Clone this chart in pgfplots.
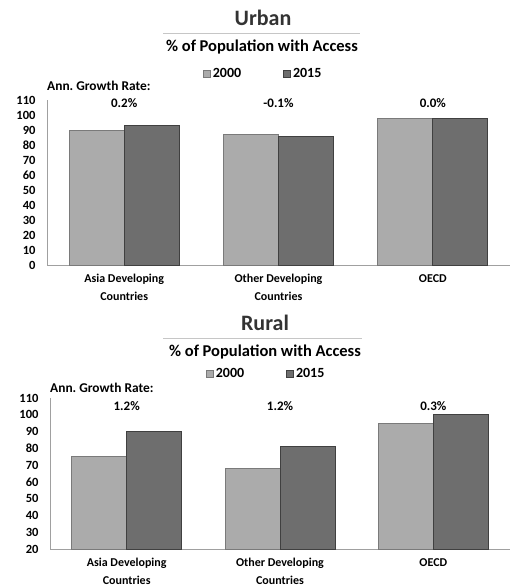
\documentclass[border=0pt]{standalone}
\usepackage{fontspec}
\setmainfont{Carlito}
\usepackage{pgfplots}
\pgfplotsset{compat=1.18}
\frenchspacing
\definecolor{lightbar}{HTML}{ABABAB}
\definecolor{lightedge}{HTML}{7A7A7A}
\definecolor{darkbar}{HTML}{6E6E6E}
\definecolor{darkedge}{HTML}{404040}
\definecolor{axgray}{HTML}{A0A0A0}
\pgfplotsset{
  mybars/.style={
    scale only axis,
    width=463pt,
    ybar=0pt,
    bar width=55pt,
    xmin=-0.5, xmax=2.5,
    xtick={0,1,2},
    xticklabels={Asia Developing\\Countries, Other Developing\\Countries, OECD},
    xticklabel style={align=center, font=\bfseries\fontsize{12}{17.5}\selectfont, yshift=-6pt},
    major tick length=0pt,
    axis x line*=bottom,
    axis y line*=left,
    axis line style={axgray, line width=0.8pt},
    yticklabel style={font=\bfseries\fontsize{12.5}{12.5}\selectfont, xshift=-8pt},
    /pgf/number format/assume math mode=true,
    legend columns=2,
    legend style={draw=none, fill=none, font=\bfseries\fontsize{14}{14}\selectfont,
      /tikz/every even column/.append style={column sep=40pt}},
    legend image code/.code={\fill[#1] (0pt,-3.5pt) rectangle (7pt,3.5pt);},
    clip=false,
  }
}
\begin{document}
\begin{tikzpicture}[x=1pt,y=1pt]
% ---------- Urban ----------
\node[font=\bfseries\fontsize{22}{22}\selectfont, text=black!80] at (263,-18) {Urban};
\draw[axgray!60, line width=0.6pt] (163,-33) -- (360,-33);
\node[font=\bfseries\fontsize{16.5}{16.5}\selectfont] at (262,-47) {\% of Population with Access};
\begin{axis}[mybars, at={(47pt,-265pt)}, anchor=south west,
  height=165pt, ymin=0, ymax=110, ytick={0,10,...,110},
  legend style={at={(0.467,1.158)}, anchor=center}]
\addplot[fill=lightbar, draw=lightedge, line width=0.8pt] coordinates {(0,90) (1,87) (2,97.5)};
\addplot[fill=darkbar, draw=darkedge, line width=0.8pt] coordinates {(0,93) (1,85.5) (2,97.5)};
\legend{2000,2015}
\node[font=\bfseries\fontsize{13.4}{13.4}\selectfont, anchor=west, inner sep=0pt] at (rel axis cs:0,1) [yshift=14pt] {Ann. Growth Rate:};
\node[font=\bfseries\fontsize{13}{13}\selectfont] at (axis cs:0,108) {0.2\%};
\node[font=\bfseries\fontsize{13}{13}\selectfont] at (axis cs:1,108) {-0.1\%};
\node[font=\bfseries\fontsize{13}{13}\selectfont] at (axis cs:2,108) {0.0\%};
\end{axis}
% ---------- Rural ----------
\node[font=\bfseries\fontsize{22}{22}\selectfont, text=black!80] at (265,-323) {Rural};
\draw[axgray!60, line width=0.6pt] (163,-338) -- (362,-338);
\node[font=\bfseries\fontsize{16.5}{16.5}\selectfont] at (265,-352) {\% of Population with Access};
\begin{axis}[mybars, at={(50pt,-549pt)}, anchor=south west,
  width=460pt,
  height=151pt, ymin=20, ymax=110, ytick={20,30,...,110},
  legend style={at={(0.47,1.16)}, anchor=center}]
\addplot[fill=lightbar, draw=lightedge, line width=0.8pt] coordinates {(0,75) (1,68) (2,95)};
\addplot[fill=darkbar, draw=darkedge, line width=0.8pt] coordinates {(0,90) (1,81) (2,100)};
\legend{2000,2015}
\node[font=\bfseries\fontsize{13.4}{13.4}\selectfont, anchor=west, inner sep=0pt] at (rel axis cs:0,1) [yshift=10pt] {Ann. Growth Rate:};
\node[font=\bfseries\fontsize{13}{13}\selectfont] at (axis cs:0,105.4) {1.2\%};
\node[font=\bfseries\fontsize{13}{13}\selectfont] at (axis cs:1,105.4) {1.2\%};
\node[font=\bfseries\fontsize{13}{13}\selectfont] at (axis cs:2,105.4) {0.3\%};
\end{axis}
\pgfresetboundingbox
\path[use as bounding box] (0,0) rectangle (510,-586);
\end{tikzpicture}
\end{document}
